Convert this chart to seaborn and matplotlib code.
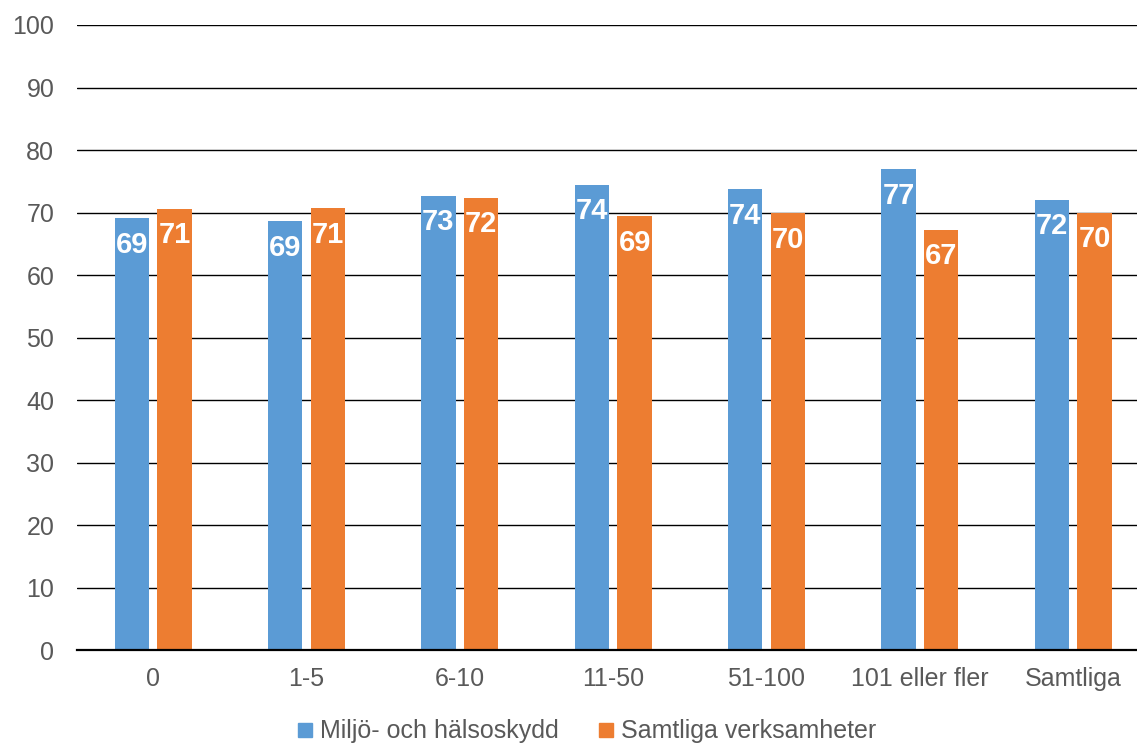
import pandas as pd
import seaborn as sns
import matplotlib.pyplot as plt
from matplotlib.lines import Line2D

# Data
categories = ["0", "1-5", "6-10", "11-50", "51-100", "101 eller fler", "Samtliga"]
series_names = ["Miljö- och hälsoskydd", "Samtliga verksamheter"]
miljo = [69.1, 68.6, 72.7, 74.4, 73.7, 76.9, 72.0]
samtliga = [70.6, 70.7, 72.4, 69.4, 69.9, 67.2, 70.0]
colors = ["#5B9BD5", "#ED7D31"]

df = pd.DataFrame({
    "kategori": categories * 2,
    "serie": [series_names[0]] * len(categories) + [series_names[1]] * len(categories),
    "varde": miljo + samtliga,
})

sns.set_style("white")
plt.rcParams["font.family"] = ["Liberation Sans", "DejaVu Sans"]

fig = plt.figure(figsize=(11.37, 7.44), dpi=100)
ax = fig.add_axes([0.0673, 0.1263, 0.944, 0.8401])

sns.barplot(data=df, x="kategori", y="varde", hue="serie", order=categories,
            hue_order=series_names, palette=colors, width=0.56, gap=0.2,
            saturation=1, errorbar=None, legend=False, linewidth=0, ax=ax)

# Value labels inside bars
for p in ax.patches:
    h = p.get_height()
    if h > 0:
        ax.annotate(f"{h:.0f}", (p.get_x() + p.get_width() / 2, h),
                    xytext=(0, -19), textcoords="offset points",
                    ha="center", va="center", color="white",
                    fontsize=21, fontweight="bold")

ax.set_ylim(0, 100)
ax.set_xlim(-0.5, len(categories) - 0.5)
ax.set_yticks(range(0, 101, 10))
ax.yaxis.grid(True, color="black", linewidth=1.0)
ax.set_axisbelow(True)
ax.set_xlabel("")
ax.set_ylabel("")
for s in ["left", "right", "top"]:
    ax.spines[s].set_visible(False)
ax.spines["bottom"].set_color("black")
ax.spines["bottom"].set_linewidth(1.6)
ax.tick_params(axis="both", length=0, labelsize=18, labelcolor="#595959")
ax.tick_params(axis="x", pad=12)
ax.tick_params(axis="y", pad=16)

handles = [Line2D([0], [0], marker="s", linestyle="", markersize=10,
                  markerfacecolor=c, markeredgecolor=c) for c in colors]
fig.legend(handles, series_names, loc="center", bbox_to_anchor=(0.516, 0.017),
           ncol=2, frameon=False, fontsize=18, labelcolor="#595959",
           handlelength=0.6, handletextpad=0.3, columnspacing=1.6)

plt.savefig("out.png", dpi=100)
